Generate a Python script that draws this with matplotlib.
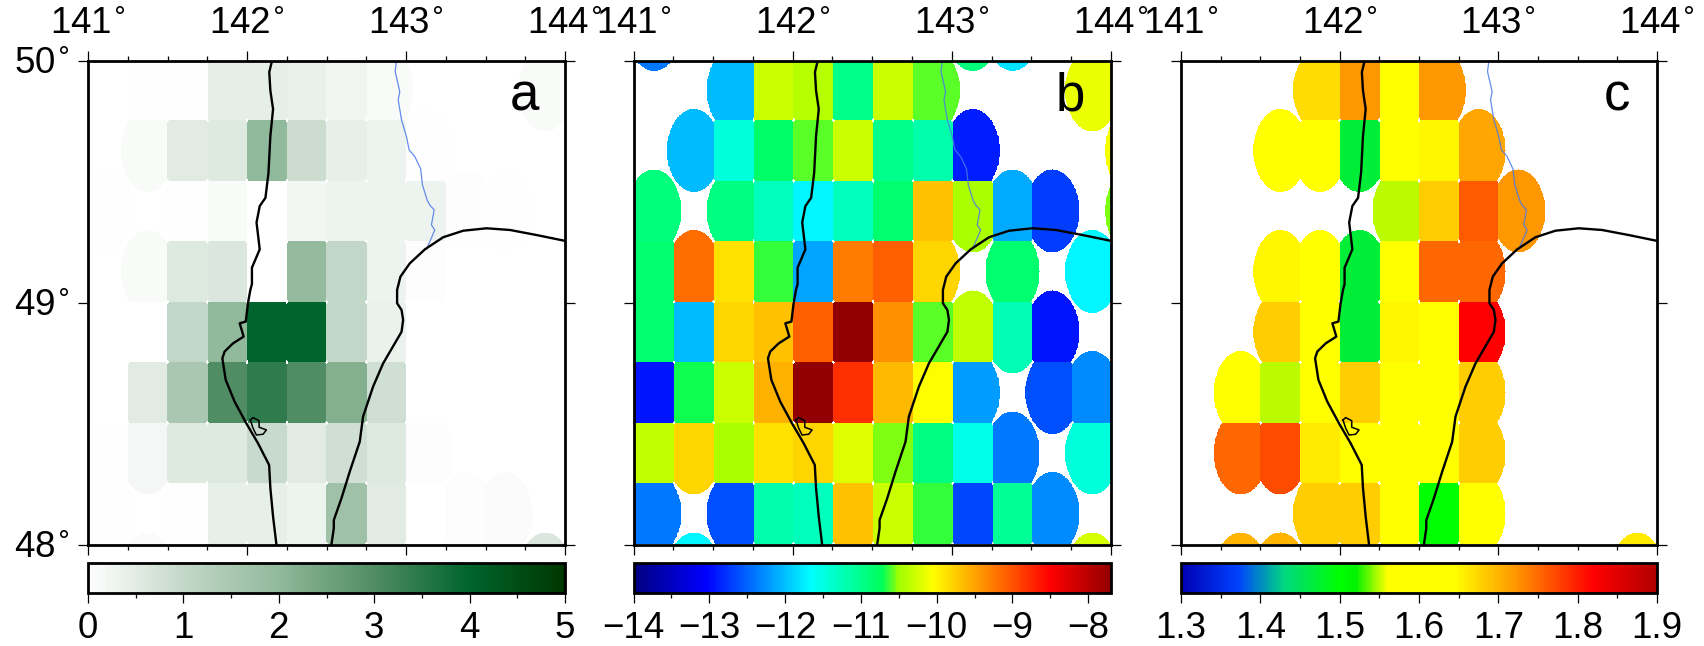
import numpy as np
import matplotlib
matplotlib.use('Agg')
import matplotlib.pyplot as plt
from matplotlib.cm import ScalarMappable
from matplotlib.colors import LinearSegmentedColormap, Normalize

plt.rcParams['font.family'] = ['Liberation Sans', 'DejaVu Sans']

n = np.nan

# grid nodes (every 0.25 deg), a node paints up to search_radius around itself
node_lon = [141.125, 141.375, 141.625, 141.875, 142.125, 142.375, 142.625, 142.875, 143.125, 143.375, 143.625, 143.875, 144.125]
node_lat = [50.125, 49.875, 49.625, 49.375, 49.125, 48.875, 48.625, 48.375, 48.125, 47.875]
search_radius = 0.17

values_a = [
    [n, n, n, n, n, n, n, n, n, n, n, n, n],
    [0.01, 0.02, 0.03, 0.42, 0.42, 0.38, 0.25, 0.1, n, n, n, 0.1, n],
    [n, 0.1, 0.5, 0.55, 2.0, 0.85, 0.4, 0.3, 0.03, n, n, n, n],
    [0.02, n, 0.02, 0.1, 0.01, 0.2, 0.3, 0.3, 0.3, 0.05, 0.02, n, n],
    [n, 0.1, 0.55, 0.6, 0.01, 1.9, 1.0, 0.3, 0.05, 0.01, n, n, n],
    [n, 0.01, 1.0, 2.0, 4.0, 4.0, 1.0, 0.35, 0.01, n, n, n, n],
    [0.01, 0.5, 1.5, 3.0, 3.4, 3.0, 2.2, 0.8, 0.01, n, 0.01, n, n],
    [0.03, 0.18, 0.55, 0.55, 0.9, 0.5, 0.8, 0.55, 0.05, n, n, n, n],
    [0.02, n, 0.02, 0.4, 0.4, 0.3, 1.7, 0.5, 0.01, 0.05, 0.08, n, n],
    [n, 0.08, n, n, n, n, n, n, n, n, n, 0.6, n],
]

values_b = [
    [-12.4, n, n, n, n, n, n, n, -10.9, -11.8, n, n, n],
    [n, n, -12.01, -10.3, -10.4, -10.98, -10.3, -10.58, n, n, n, -10.15, n],
    [n, -12.01, -11.46, -10.8, -10.58, -10.3, -11.0, -11.17, -12.89, n, n, n, -10.1],
    [-10.9, n, -10.94, -11.29, -11.7, -11.29, -10.83, -9.69, -10.45, -12.12, -12.72, n, -10.55],
    [-10.83, -9.17, -9.87, -10.65, -12.15, -9.26, -9.08, -9.81, n, -10.85, n, -11.7, n],
    [-10.83, -12.01, -9.81, -9.69, -9.1, -7.7, -9.38, -10.6, -10.35, -11.23, -12.94, n, n],
    [-12.94, -10.7, -10.3, -9.59, -7.7, -8.8, -9.62, -10.05, -12.18, n, -12.61, -12.29, n],
    [-10.35, -9.81, -10.45, -9.87, -9.81, -10.2, -10.55, -10.94, -11.52, -12.4, n, -11.46, n],
    [-12.4, n, -12.61, -11.17, -11.29, -9.69, -10.3, -10.65, -12.67, -11.06, -12.29, n, n],
    [n, -11.7, n, n, n, n, n, n, n, n, n, -10.25, n],
]

values_c = [
    [n, n, n, n, n, n, n, n, n, n, n, n, n],
    [n, n, n, 1.67, 1.72, 1.6, 1.72, n, n, n, n, n, n],
    [n, n, 1.62, 1.62, 1.47, 1.64, 1.65, 1.71, n, n, n, n, n],
    [n, n, n, n, n, 1.55, 1.68, 1.76, 1.72, n, n, n, n],
    [n, n, 1.65, 1.63, 1.47, 1.62, 1.75, 1.75, n, n, n, n, n],
    [n, n, 1.68, 1.62, 1.47, 1.65, 1.63, 1.82, n, n, n, n, n],
    [n, 1.62, 1.55, 1.6, 1.68, 1.62, 1.62, 1.68, n, n, n, n, n],
    [n, 1.75, 1.77, 1.66, 1.62, 1.62, 1.62, 1.68, n, n, n, n, n],
    [n, n, n, 1.68, 1.68, 1.62, 1.5, 1.62, n, n, n, n, n],
    [n, 1.7, 1.7, n, n, n, n, n, n, n, n, 1.66, n],
]

# border lines, lon / lat
west_lon = [142.157, 142.140, 142.147, 142.164, 142.147, 142.135, 142.116, 142.080, 142.060, 142.080, 142.031, 142.031, 142.021, 142.006, 141.992, 141.954, 141.979, 141.912, 141.859, 141.845, 141.866, 141.922, 141.996, 142.069, 142.139, 142.147, 142.164, 142.185]
west_lat = [50.0, 49.954, 49.877, 49.801, 49.690, 49.537, 49.434, 49.400, 49.332, 49.221, 49.145, 49.077, 49.053, 48.998, 48.922, 48.915, 48.860, 48.832, 48.798, 48.770, 48.681, 48.591, 48.501, 48.419, 48.329, 48.233, 48.115, 48.0]
east_lon = [142.531, 142.546, 142.546, 142.594, 142.646, 142.709, 142.730, 142.793, 142.856, 142.972, 142.982, 142.972, 142.944, 142.944, 142.965, 143.024, 143.119, 143.234, 143.360, 143.507, 143.654, 143.822, 144.0]
east_lat = [48.0, 48.067, 48.101, 48.191, 48.301, 48.425, 48.529, 48.653, 48.749, 48.880, 48.929, 48.970, 48.998, 49.053, 49.108, 49.163, 49.221, 49.271, 49.298, 49.308, 49.301, 49.280, 49.256]
river_lon = [142.940, 142.932, 142.961, 142.951, 142.972, 143.003, 143.020, 143.055, 143.092, 143.104, 143.133, 143.150, 143.177, 143.160, 143.181, 143.129]
river_lat = [50.0, 49.956, 49.873, 49.839, 49.756, 49.687, 49.632, 49.605, 49.554, 49.486, 49.425, 49.404, 49.384, 49.322, 49.301, 49.221]
loop_lon = [142.021, 142.038, 142.076, 142.076, 142.122, 142.101, 142.059, 142.038, 142.021]
loop_lat = [48.515, 48.525, 48.512, 48.485, 48.474, 48.456, 48.453, 48.481, 48.515]

# colour scales
cmap_a = LinearSegmentedColormap.from_list('greens', [
    (0.0, (1, 1, 1)), (0.2, (195/255, 215/255, 200/255)), (0.4, (145/255, 185/255, 155/255)),
    (0.6, (80/255, 140/255, 100/255)), (0.8, (0, 100/255, 45/255)), (1.0, (0, 55/255, 0))])


def make_cmap(name, vmin, vmax, stops):
    return LinearSegmentedColormap.from_list(name, [((v - vmin) / (vmax - vmin), c) for v, c in stops])


cmap_b = make_cmap('rb', -14, -7.7, [
    (-14, (0, 0, 0.5)), (-13.05, (0, 0, 1)), (-11.66, (0, 1, 1)), (-10.71, (0, 1, 0.35)), (-10.5, (0.62, 1, 0)),
    (-10.05, (1, 1, 0)), (-8.5, (1, 0, 0)), (-7.7, (0.58, 0, 0))])
cmap_c = make_cmap('gy', 1.3, 1.9, [
    (1.3, (0, 0, 0.7)), (1.37, (0, 0.25, 1)), (1.43, (0, 0.85, 0.5)), (1.5, (0, 1, 0)), (1.52, (0, 0.95, 0)),
    (1.56, (1, 1, 0)), (1.645, (1, 1, 0)), (1.72, (1, 0.6, 0)), (1.82, (1, 0, 0)), (1.9, (0.7, 0, 0))])

panels = [
    (values_a, cmap_a, 0, 5, 'a', [0, 1, 2, 3, 4, 5], 88, 565),
    (values_b, cmap_b, -14, -7.7, 'b', [-14, -13, -12, -11, -10, -9, -8], 633.5, 1111),
    (values_c, cmap_c, 1.3, 1.9, 'c', [1.3, 1.4, 1.5, 1.6, 1.7, 1.8, 1.9], 1181, 1657),
]

W, H = 1704, 646
map_top, map_bottom = 61, 544.5
bar_top, bar_bottom = 562.5, 592.5

# fine grid for the nearest-node raster
fine_lon = np.arange(141.001, 144.0, 0.004)
fine_lat = np.arange(48.001, 50.0, 0.004)
grid_lon, grid_lat = np.meshgrid(fine_lon, fine_lat)


def nearest_raster(values):
    best = np.full(grid_lon.shape, search_radius)
    out = np.full(grid_lon.shape, np.nan)
    for i, la in enumerate(node_lat):
        for j, lo in enumerate(node_lon):
            if np.isnan(values[i][j]):
                continue
            d = np.hypot(grid_lon - lo, grid_lat - la)
            closer = d < best
            best[closer] = d[closer]
            out[closer] = values[i][j]
    return np.ma.masked_invalid(out)


fig = plt.figure(figsize=(W / 100, H / 100), dpi=100)
fig.patch.set_facecolor('white')

for k, (values, cmap, vmin, vmax, letter, bar_ticks, x0, x1) in enumerate(panels):
    ax = fig.add_axes([x0 / W, 1 - map_bottom / H, (x1 - x0) / W, (map_bottom - map_top) / H])
    ax.imshow(nearest_raster(values), extent=[141, 144, 48, 50], origin='lower', aspect='auto',
              cmap=cmap, vmin=vmin, vmax=vmax, interpolation='nearest')
    ax.plot(river_lon, river_lat, color='#4a78e8', lw=0.9, alpha=0.85)
    ax.plot(west_lon, west_lat, color='black', lw=1.7)
    ax.plot(east_lon, east_lat, color='black', lw=1.7)
    ax.plot(loop_lon, loop_lat, color='black', lw=1.1)
    ax.set_xlim(141, 144)
    ax.set_ylim(48, 50)

    ax.set_xticks([141, 142, 143, 144])
    ax.set_xticklabels(['141$^{\\circ}$', '142$^{\\circ}$', '143$^{\\circ}$', '144$^{\\circ}$'])
    ax.set_xticks(np.arange(141, 144.01, 0.25), minor=True)
    ax.set_yticks([48, 49, 50])
    ax.set_yticklabels(['48$^{\\circ}$', '49$^{\\circ}$', '50$^{\\circ}$'])
    ax.tick_params(which='major', direction='out', top=True, bottom=True, left=True, right=True,
                   labeltop=True, labelbottom=False, labelleft=(k == 0), labelright=False,
                   length=7.5, width=0.9, labelsize=26.5, pad=6)
    ax.tick_params(which='minor', direction='out', top=True, bottom=True, length=3.8, width=0.9)
    for s in ax.spines.values():
        s.set_linewidth(2.0)
    ax.text(0.915, 0.897, letter, transform=ax.transAxes, ha='center', va='baseline', fontsize=38)

    cax = fig.add_axes([x0 / W, 1 - bar_bottom / H, (x1 - x0) / W, (bar_bottom - bar_top) / H])
    cb = fig.colorbar(ScalarMappable(Normalize(vmin, vmax), cmap), cax=cax, orientation='horizontal')
    cb.set_ticks(bar_ticks)
    if k == 1:
        cb.set_ticklabels(['\u2212%d' % abs(t) for t in bar_ticks])
    elif k == 2:
        cb.set_ticklabels(['%.1f' % t for t in bar_ticks])
    else:
        cb.set_ticklabels([str(t) for t in bar_ticks])
    step = bar_ticks[1] - bar_ticks[0]
    cax.set_xticks(np.arange(bar_ticks[0], vmax + 1e-6, step / 2), minor=True)
    cax.tick_params(which='major', direction='out', length=7.5, width=0.9, labelsize=26.5, pad=6)
    cax.tick_params(which='minor', direction='out', length=3.8, width=0.9)
    cb.outline.set_linewidth(2.0)

fig.savefig('out.png', dpi=100)
